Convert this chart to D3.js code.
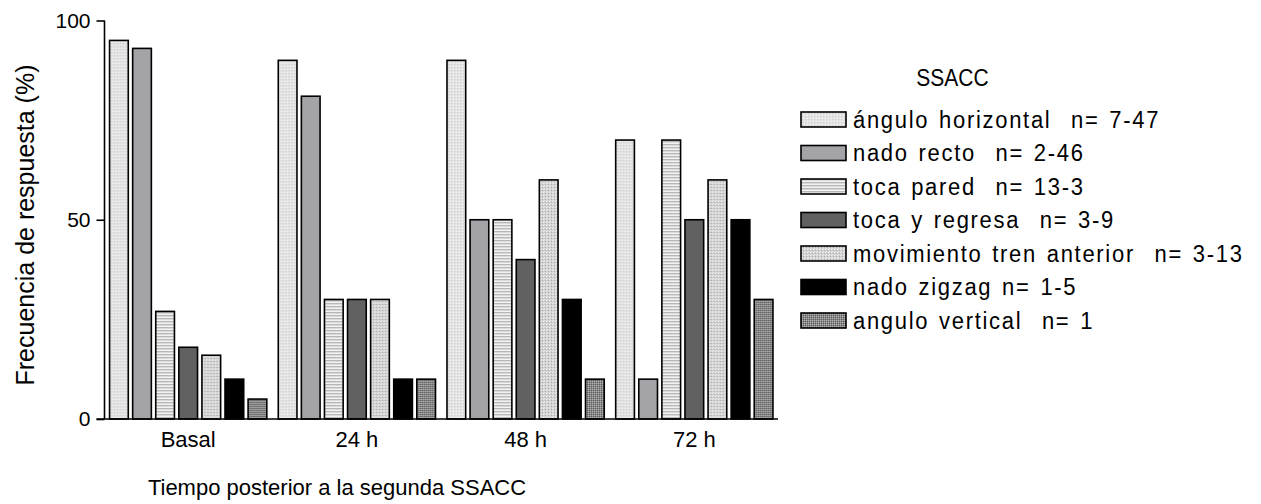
<!DOCTYPE html>
<html><head><meta charset="utf-8">
<script src="https://cdn.jsdelivr.net/npm/d3@7"></script>
<style>
body{margin:0;background:#fff;}
svg text{font-family:"Liberation Sans",Arial,sans-serif;fill:#000;}
</style></head>
<body><svg id="c" width="1261" height="504"></svg>
<script>
const categories = ["Basal","24 h","48 h","72 h"];
const seriesNames = ["ángulo horizontal  n= 7-47","nado recto  n= 2-46","toca pared  n= 13-3","toca y regresa  n= 3-9","movimiento tren anterior  n= 3-13","nado zigzag n= 1-5","angulo vertical  n= 1"];
const anguloHorizontal = [95,90,90,70];
const nadoRecto = [93,81,50,10];
const tocaPared = [27,30,50,70];
const tocaYRegresa = [18,30,40,50];
const movimientoTren = [16,30,60,60];
const nadoZigzag = [10,10,30,50];
const anguloVertical = [5,10,10,30];
const yTicks = [0,50,100];
const legendTitle = "SSACC";
const xTitle = "Tiempo posterior a la segunda SSACC";
const yTitle = "Frecuencia de respuesta (%)";

const seriesValues = [anguloHorizontal,nadoRecto,tocaPared,tocaYRegresa,movimientoTren,nadoZigzag,anguloVertical];
const svg = d3.select("#c");
const defs = svg.append("defs");

function pat(id,w,h,bg,draw){
  const p = defs.append("pattern").attr("id",id).attr("patternUnits","userSpaceOnUse").attr("width",w).attr("height",h);
  p.append("rect").attr("width",w).attr("height",h).attr("fill",bg);
  draw(p);
}
pat("p0",3,3,"#e2e2e2",p=>{p.append("rect").attr("x",0).attr("y",0).attr("width",1).attr("height",1).attr("fill","#f8f8f8");p.append("rect").attr("x",1).attr("y",1).attr("width",1).attr("height",1).attr("fill","#cfcfcf");});
pat("p2",3,3,"#f2f2f2",p=>{p.append("rect").attr("x",0).attr("y",0).attr("width",3).attr("height",1.4).attr("fill","#b8b8b8");});
pat("p4",3,3,"#d2d2d2",p=>{p.append("rect").attr("x",0).attr("y",0).attr("width",1).attr("height",1).attr("fill","#f0f0f0");p.append("rect").attr("x",2).attr("y",1).attr("width",1).attr("height",1).attr("fill","#a8a8a8");p.append("rect").attr("x",1).attr("y",2).attr("width",1).attr("height",1).attr("fill","#e8e8e8");});
pat("p6",2,2,"#8a8a8a",p=>{p.append("rect").attr("x",0).attr("y",0).attr("width",1).attr("height",1).attr("fill","#5a5a5a");p.append("rect").attr("x",1).attr("y",1).attr("width",1).attr("height",1).attr("fill","#b0b0b0");});
const fills = ["url(#p0)","#a3a3a8","url(#p2)","#616161","url(#p4)","#000000","url(#p6)"];

const x0 = d3.scaleBand().domain(categories).range([104.5,778]).paddingInner(0.068).paddingOuter(0.03);
const x1 = d3.scaleBand().domain(d3.range(seriesNames.length)).range([0,x0.bandwidth()]).paddingInner(0.19).paddingOuter(0);
const y = d3.scaleLinear().domain([0,100]).range([419,20.5]);

const groups = svg.append("g").selectAll("g").data(categories).join("g")
  .attr("transform",d=>`translate(${x0(d)},0)`);
groups.selectAll("rect").data((c,ci)=>seriesValues.map((s,si)=>({si,v:s[ci]}))).join("rect")
  .attr("x",d=>x1(d.si)).attr("width",x1.bandwidth())
  .attr("y",d=>y(d.v)).attr("height",d=>y(0)-y(d.v))
  .attr("fill",d=>fills[d.si]).attr("stroke","#000").attr("stroke-width",1.6);

// y axis
const ya = svg.append("g").attr("transform","translate(104.5,0)")
  .call(d3.axisLeft(y).tickValues(yTicks).tickSize(8).tickPadding(6).tickFormat(d3.format("d")));
ya.attr("font-size",null).attr("font-family",null);
ya.select(".domain").attr("stroke-width",1.6).attr("d","M0,"+y(100)+"V"+y(0));
ya.selectAll(".tick line").attr("stroke-width",1.6);
ya.selectAll("text").style("font-size","21px");

// x axis
const xa = svg.append("g").attr("transform",`translate(0,${y(0)})`)
  .call(d3.axisBottom(x0).tickSize(0).tickPadding(12));
xa.attr("font-size",null).attr("font-family",null);
xa.select(".domain").attr("stroke-width",1.6).attr("d","M96.5,0H778");
xa.selectAll("text").style("font-size","22px");

function stext(x,yb,size,txt,anchor,rot,sy){
  const g = svg.append("g").attr("transform",`translate(${x},${yb})${rot?" rotate(-90)":""} scale(1,${sy||1})`);
  return g.append("text").attr("text-anchor",anchor).style("font-size",size+"px").text(txt);
}
stext(337,495,22,xTitle,"middle");
stext(34,225,25,yTitle,"middle",true);
stext(952.5,86,21,legendTitle,"middle",false,1.1);

// legend
const lg = svg.append("g").selectAll("g").data(seriesNames).join("g")
  .attr("transform",(d,i)=>`translate(801,${112+i*33.5})`);
lg.append("rect").attr("width",45).attr("height",15).attr("fill",(d,i)=>fills[i]).attr("stroke","#000").attr("stroke-width",1.6);
lg.append("g").attr("transform",`translate(52,15.5) scale(1,1.05)`)
  .append("text").style("font-size","22px").style("letter-spacing","1.7px").style("word-spacing","2px")
  .attr("xml:space","preserve").style("white-space","pre").text(d=>d);
</script></body></html>
